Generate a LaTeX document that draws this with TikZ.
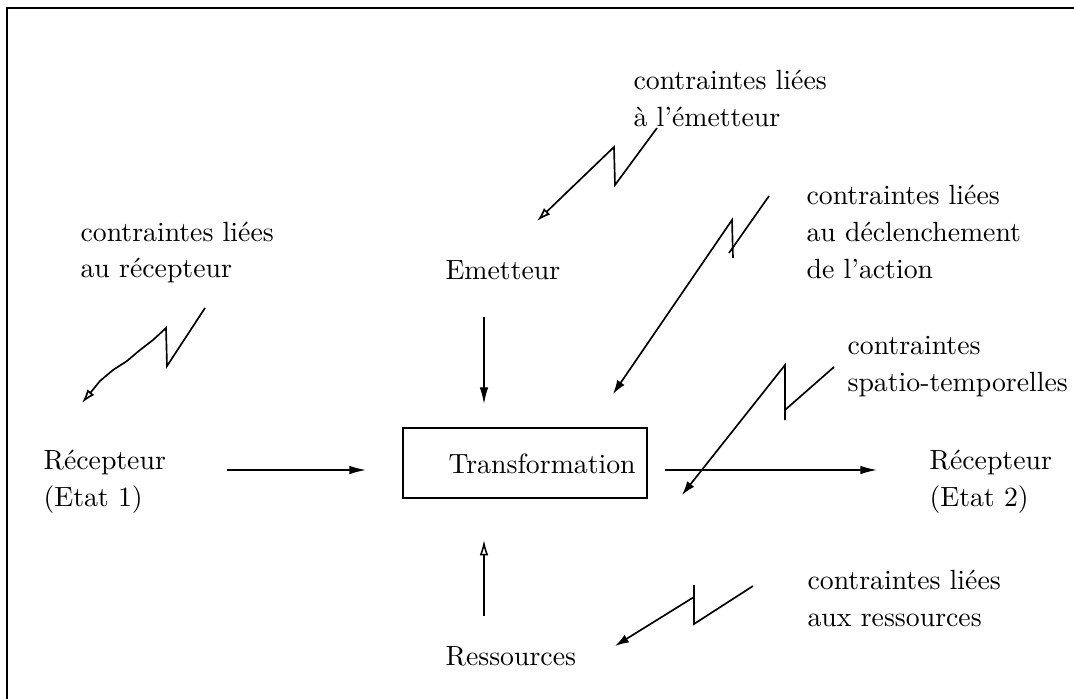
\documentclass[tikz,border=0pt]{standalone}
\usetikzlibrary{arrows.meta}
\begin{document}
\begin{tikzpicture}[x=0.36pt,y=-0.36pt,
  lbl/.style={anchor=west,inner sep=0pt,align=left,font=\fontsize{10}{13.3}\selectfont},
  conn/.style={line width=0.55pt,-{Latex[length=6pt,width=3.1pt]}},
  openconn/.style={line width=0.55pt,-{Latex[open,length=5.5pt,width=3.1pt]}},
  bolt/.style={line width=0.6pt,line join=miter},
  tipfull/.style={-{Latex[length=5pt,width=3.2pt]}},
  tipopen/.style={-{Latex[open,length=5pt,width=3.2pt]}},
  boxstyle/.style={draw,line width=0.7pt,inner sep=0pt,minimum width=87.8pt,minimum height=25.2pt},
  framestyle/.style={line width=0.8pt}]
\useasboundingbox (0,0) rectangle (1074,699);
\draw[framestyle] (7,699) -- (7,8) -- (1074,8);

% texts
\node[lbl] (cemet) at (633,98.5) {contraintes liées\\à l'émetteur};
\node[lbl] (cdecl) at (806,232) {contraintes liées\\au déclenchement\\de l'action};
\node[lbl] (crec) at (80,252.5) {contraintes liées\\au récepteur};
\node[lbl] (emet) at (445,270) {Emetteur};
\node[lbl] (cspat) at (847,366.5) {contraintes\\spatio-temporelles};
\node[lbl] (rec1) at (43,482) {Récepteur\\(Etat 1)};
\node[boxstyle] (trans) at (525,463) {};
\node[lbl] (transt) at (448,464) {Transformation};
\node[lbl] (rec2) at (929,482) {Récepteur\\(Etat 2)};
\node[lbl] (cres) at (807,598.5) {contraintes liées\\aux ressources};
\node[lbl] (ress) at (445,656) {Ressources};

% straight arrows
\coordinate (emA) at (484,317); \coordinate (emB) at (484,404);
\draw[conn] (emA) -- (emB);
\coordinate (reA) at (484,616); \coordinate (reB) at (484,540);
\draw[openconn] (reA) -- (reB);
\coordinate (r1A) at (227,470); \coordinate (r1B) at (366,470);
\draw[conn] (r1A) -- (r1B);
\coordinate (r2A) at (665,470); \coordinate (r2B) at (877,470);
\draw[conn] (r2A) -- (r2B);

% lightning bolts
\coordinate (b1s) at (205,308); \coordinate (b1e) at (82,403);
\draw[bolt,tipopen] (b1s) -- (167,366) -- (166,328) -- (153,340) -- (140,350) -- (127,361) -- (113,370) -- (100,381) -- (b1e);

\coordinate (b2s) at (657,128); \coordinate (b2e) at (537,221);
\draw[bolt,tipopen] (b2s) -- (615,185) -- (614,147) -- (b2e);

\coordinate (b3s) at (769,196); \coordinate (b3e) at (613,394);
\draw[bolt] (b3s) -- (729,253);
\draw[bolt,tipfull] (733,258) -- (732,220) -- (b3e);

\coordinate (b4s) at (834,367); \coordinate (b4e) at (682,495);
\draw[bolt] (b4s) -- (785,410);
\draw[bolt,tipfull] (785,420) -- (785,365) -- (b4e);

\coordinate (b5s) at (753,586); \coordinate (b5e) at (615,646);
\draw[bolt] (b5s) -- (694,624) -- (694,585);
\draw[bolt,tipfull] (694,597) -- (b5e);
\end{tikzpicture}
\end{document}
